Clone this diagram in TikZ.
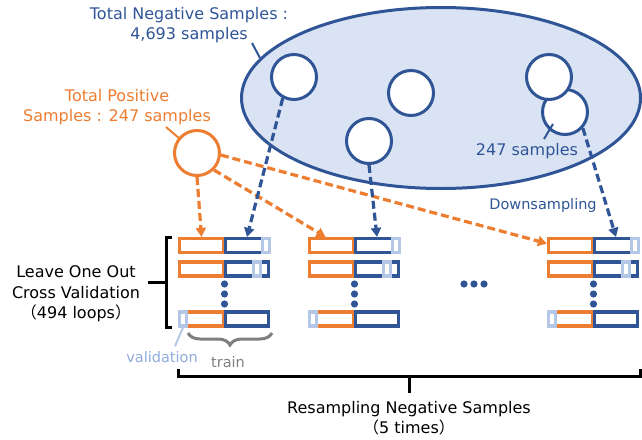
\documentclass[tikz,border=0pt]{standalone}
\usepackage{fontspec}
\setmainfont{DejaVu Sans}
\newfontfamily\cjk{Noto Sans CJK JP}
\usetikzlibrary{arrows.meta,decorations.pathreplacing,shapes.geometric}
\definecolor{negblue}{HTML}{2F5597}
\definecolor{posorange}{HTML}{ED7D31}
\definecolor{setfill}{HTML}{DAE3F3}
\definecolor{valblue}{HTML}{B4C7E7}
\definecolor{valtext}{HTML}{8FAADC}
\definecolor{braceline}{HTML}{7F7F7F}

\begin{document}
\begin{tikzpicture}[x=1pt, y=-1pt,
    txt/.style={font=\fontsize{16}{20.5}\selectfont, align=center, inner sep=0pt},
    smalltxt/.style={font=\fontsize{14.5}{17}\selectfont, inner sep=0pt},
    sample/.style={circle, draw=#1, line width=3pt, fill=white, minimum size=45pt, inner sep=0pt},
    posbox/.style={draw=posorange, line width=3.2pt, minimum width=44pt, minimum height=14pt, inner sep=0pt},
    negbox/.style={draw=negblue, line width=3.2pt, minimum width=43pt, minimum height=14pt, inner sep=0pt},
    valbox/.style={draw=valblue, fill=white, line width=3.2pt, minimum width=7pt, minimum height=14pt, inner sep=0pt},
    pick/.style={dashed, dash pattern=on 8pt off 4pt, line width=3.2pt, -{Triangle[length=9pt, width=10pt]}}
  ]
  \useasboundingbox (0,0) rectangle (642,439);

  % negative sample set
  \node[ellipse, draw=negblue, fill=setfill, line width=3pt, minimum width=399pt, minimum height=181pt] (negset) at (441,98) {};
  \node[sample=negblue] (n1) at (294,77) {};
  \node[sample=negblue] (n2) at (411,93) {};
  \node[sample=negblue] (n3) at (369,141) {};
  \node[sample=negblue] (n5) at (565,112) {};
  \node[sample=negblue] (n4) at (549,77) {};

  % positive samples
  \node[sample=posorange] (pos) at (197,153) {};

  % labels
  \node[txt, text=negblue] (negtxt) at (189,25) {Total Negative Samples :\\4,693 samples};
  \node[txt, text=posorange] (postxt) at (117,107) {Total Positive\\Samples : 247 samples};
  \node[txt, text=negblue] (subtxt) at (527,151) {247 samples};
  \node[smalltxt, text=negblue] (downtxt) at (543,205) {Downsampling};
  \coordinate (negtip) at (252,43);
  \coordinate (negend) at (260,58);
  \coordinate (postip) at (166,127);
  \coordinate (posend) at (180,139);
  \coordinate (subtip) at (544,139);
  \coordinate (subend) at (553,124);
  \draw[negblue, line width=2pt] (negtip) -- (negend);
  \draw[posorange, line width=2pt] (postip) -- (posend);
  \draw[negblue, line width=2pt] (subtip) -- (subend);

  % folds
  \foreach \c/\x in {a/178, b/308, c/547} {
    \foreach \r/\y in {1/245.5, 2/269, 3/319} {
      \node[posbox] (\c\r o) at (\x+23.5,\y) {};
      \node[negbox] (\c\r n) at (\x+69,\y) {};
    }
    \node[valbox] (\c1v) at (\x+88,245.5) {};
    \node[valbox] (\c2v) at (\x+79,269) {};
    \node[valbox] (\c3v) at (\x+5,319) {};
    \foreach \d in {284,294,304}
      \fill[negblue] (\x+46.5,\d) circle (3.6pt);
  }
  \foreach \d in {464,474,484}
    \fill[negblue] (\d,284) circle (3.6pt);

  % arrows
  \draw[pick, posorange] (pos.south) -- (a1o.north);
  \draw[pick, posorange] (pos.-45) -- ([xshift=-6pt]b1o.north);
  \draw[pick, posorange] (pos.-5) -- ([yshift=2pt]c1o.west);
  \draw[pick, negblue] (n1.-118) -- (a1n.north);
  \draw[pick, negblue] (n3.south) -- (b1n.north);
  \draw[pick, negblue] (n5.-42) -- (c1n.north);

  % loo bracket
  \draw[line width=3pt] (172,237) -- (166,237) -- (166,327) -- (172,327);
  \draw[line width=3pt] (166,282) -- (148,282);
  \node[txt] (lootxt) at (76,294) {Leave One Out\\Cross Validation\\{\cjk （}494 loops{\cjk ）}};

  % train / validation
  \draw[braceline, line width=3pt, decorate, decoration={brace, mirror, amplitude=12pt}] (188,333) -- (272,333);
  \node[smalltxt, text=braceline] (traintxt) at (228,362) {train};
  \node[smalltxt, text=valtext] (valtxt) at (162,357) {validation};
  \draw[valblue, line width=2pt] (valtxt.north) ++(13,-5) -- (a3v.south);

  % resampling bracket
  \draw[line width=3pt] (178,369) -- (178,376) -- (640,376) -- (640,369);
  \draw[line width=3pt] (409,376) -- (409,393);
  \node[txt] (restxt) at (409,418) {Resampling Negative Samples\\{\cjk （}5 times{\cjk ）}};
\end{tikzpicture}
\end{document}
